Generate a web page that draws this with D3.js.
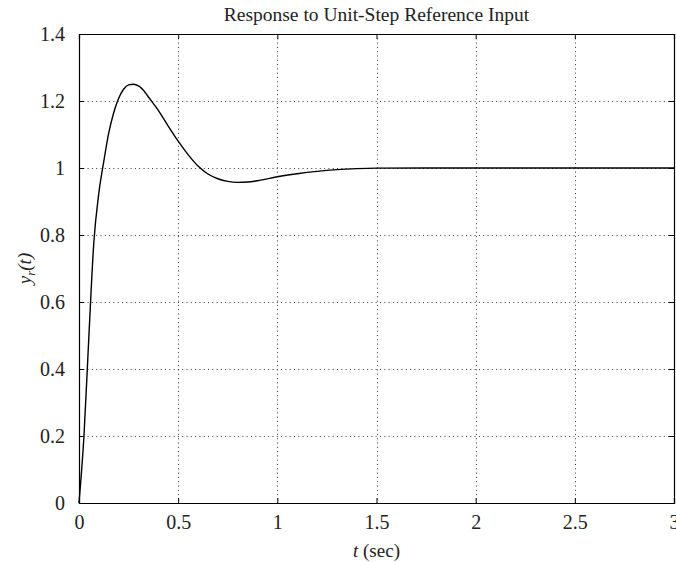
<!DOCTYPE html>
<html>
<head>
<meta charset="utf-8">
<script src="https://cdn.jsdelivr.net/npm/d3@7"></script>
<style>
  body { margin: 0; background: #fff; }
  svg text { font-family: "Liberation Serif", "Times New Roman", serif; fill: #222; }
</style>
</head>
<body>
<svg id="chart" width="676" height="562"></svg>
<script>
// time samples (sec) and response
const timeValues = [0, 0.025, 0.05, 0.075, 0.1, 0.125, 0.15, 0.175, 0.2, 0.225, 0.25, 0.275, 0.3, 0.325,
    0.35, 0.4, 0.45, 0.5, 0.55, 0.6, 0.65, 0.7, 0.75, 0.8, 0.85, 0.9, 1.0, 1.1, 1.2, 1.3, 1.4, 1.5,
    1.75, 2.0, 2.5, 3.0];
const responseValues = [0, 0.2, 0.5, 0.78, 0.925, 1.02, 1.105, 1.165, 1.208, 1.235, 1.248, 1.25, 1.245, 1.232,
    1.212, 1.172, 1.125, 1.08, 1.04, 1.006, 0.982, 0.968, 0.96, 0.957, 0.958, 0.962, 0.974, 0.983, 0.99, 0.995, 0.998, 0.9995,
    1.0, 1.0, 1.0, 1.0];
const xTicks = [0, 0.5, 1, 1.5, 2, 2.5, 3];
const yTicks = [0, 0.2, 0.4, 0.6, 0.8, 1, 1.2, 1.4];

const margin = {top: 34, right: 2, bottom: 59, left: 79};
const width = 676, height = 562;

const svg = d3.select("#chart");

const x = d3.scaleLinear().domain([0, 3]).range([margin.left, width - margin.right]);
const y = d3.scaleLinear().domain([0, 1.4]).range([height - margin.bottom, margin.top]);

// dotted grid
const grid = svg.append("g").attr("class", "grid")
    .attr("stroke", "#333")
    .attr("stroke-width", 1)
    .attr("stroke-dasharray", "1,3.3");

grid.selectAll(".vgrid")
    .data(xTicks.slice(1, -1))
    .join("line")
    .attr("x1", d => Math.round(x(d)) + 0.5)
    .attr("x2", d => Math.round(x(d)) + 0.5)
    .attr("y1", y(1.4))
    .attr("y2", y(0));

grid.selectAll(".hgrid")
    .data(yTicks.slice(1, -1))
    .join("line")
    .attr("y1", d => Math.round(y(d)) + 0.5)
    .attr("y2", d => Math.round(y(d)) + 0.5)
    .attr("x1", x(0))
    .attr("x2", x(3));

// axes with inward ticks on all four sides
const xAxisBottom = d3.axisBottom(x).tickValues(xTicks).tickSize(-5).tickPadding(12)
    .tickFormat(d3.format("~g"));
const xAxisTop = d3.axisTop(x).tickValues(xTicks).tickSize(-5).tickFormat("");
const yAxisLeft = d3.axisLeft(y).tickValues(yTicks).tickSize(-5).tickPadding(14)
    .tickFormat(d3.format("~g"));
const yAxisRight = d3.axisRight(y).tickValues(yTicks).tickSize(-5).tickFormat("");

function styleAxis(g) {
    g.select(".domain").attr("stroke", "#000").attr("stroke-width", 1.2);
    g.selectAll(".tick line").attr("stroke", "#000");
    g.selectAll(".tick text").attr("font-size", 20).attr("fill", "#222")
        .attr("font-family", "Liberation Serif, serif");
}

svg.append("g").attr("transform", `translate(0,${y(0)})`).call(xAxisBottom).call(styleAxis);
svg.append("g").attr("transform", `translate(0,${y(1.4)})`).call(xAxisTop).call(styleAxis);
svg.append("g").attr("transform", `translate(${x(0)},0)`).call(yAxisLeft).call(styleAxis);
svg.append("g").attr("transform", `translate(${x(3)},0)`).call(yAxisRight).call(styleAxis);

// response curve
const line = d3.line()
    .x((d, i) => x(timeValues[i]))
    .y(d => y(d))
    .curve(d3.curveMonotoneX);

svg.append("path")
    .datum(responseValues)
    .attr("fill", "none")
    .attr("stroke", "#000")
    .attr("stroke-width", 1.4)
    .attr("d", line);

// title and labels
svg.append("text")
    .attr("x", (x(0) + x(3)) / 2)
    .attr("y", 21)
    .attr("text-anchor", "middle")
    .attr("font-size", 19.5)
    .text("Response to Unit-Step Reference Input");

const xLabel = svg.append("text")
    .attr("x", (x(0) + x(3)) / 2)
    .attr("y", 557)
    .attr("text-anchor", "middle")
    .attr("font-size", 19);
xLabel.append("tspan").attr("font-style", "italic").text("t");
xLabel.append("tspan").text(" (sec)");

const yLabel = svg.append("text")
    .attr("transform", `translate(31,${(y(0) + y(1.4)) / 2}) rotate(-90)`)
    .attr("text-anchor", "middle")
    .attr("font-size", 19)
    .attr("font-style", "italic");
yLabel.append("tspan").text("y");
yLabel.append("tspan").attr("font-size", 13).attr("dy", 4).text("r");
yLabel.append("tspan").attr("dy", -4).text("(t)");
</script>
</body>
</html>
